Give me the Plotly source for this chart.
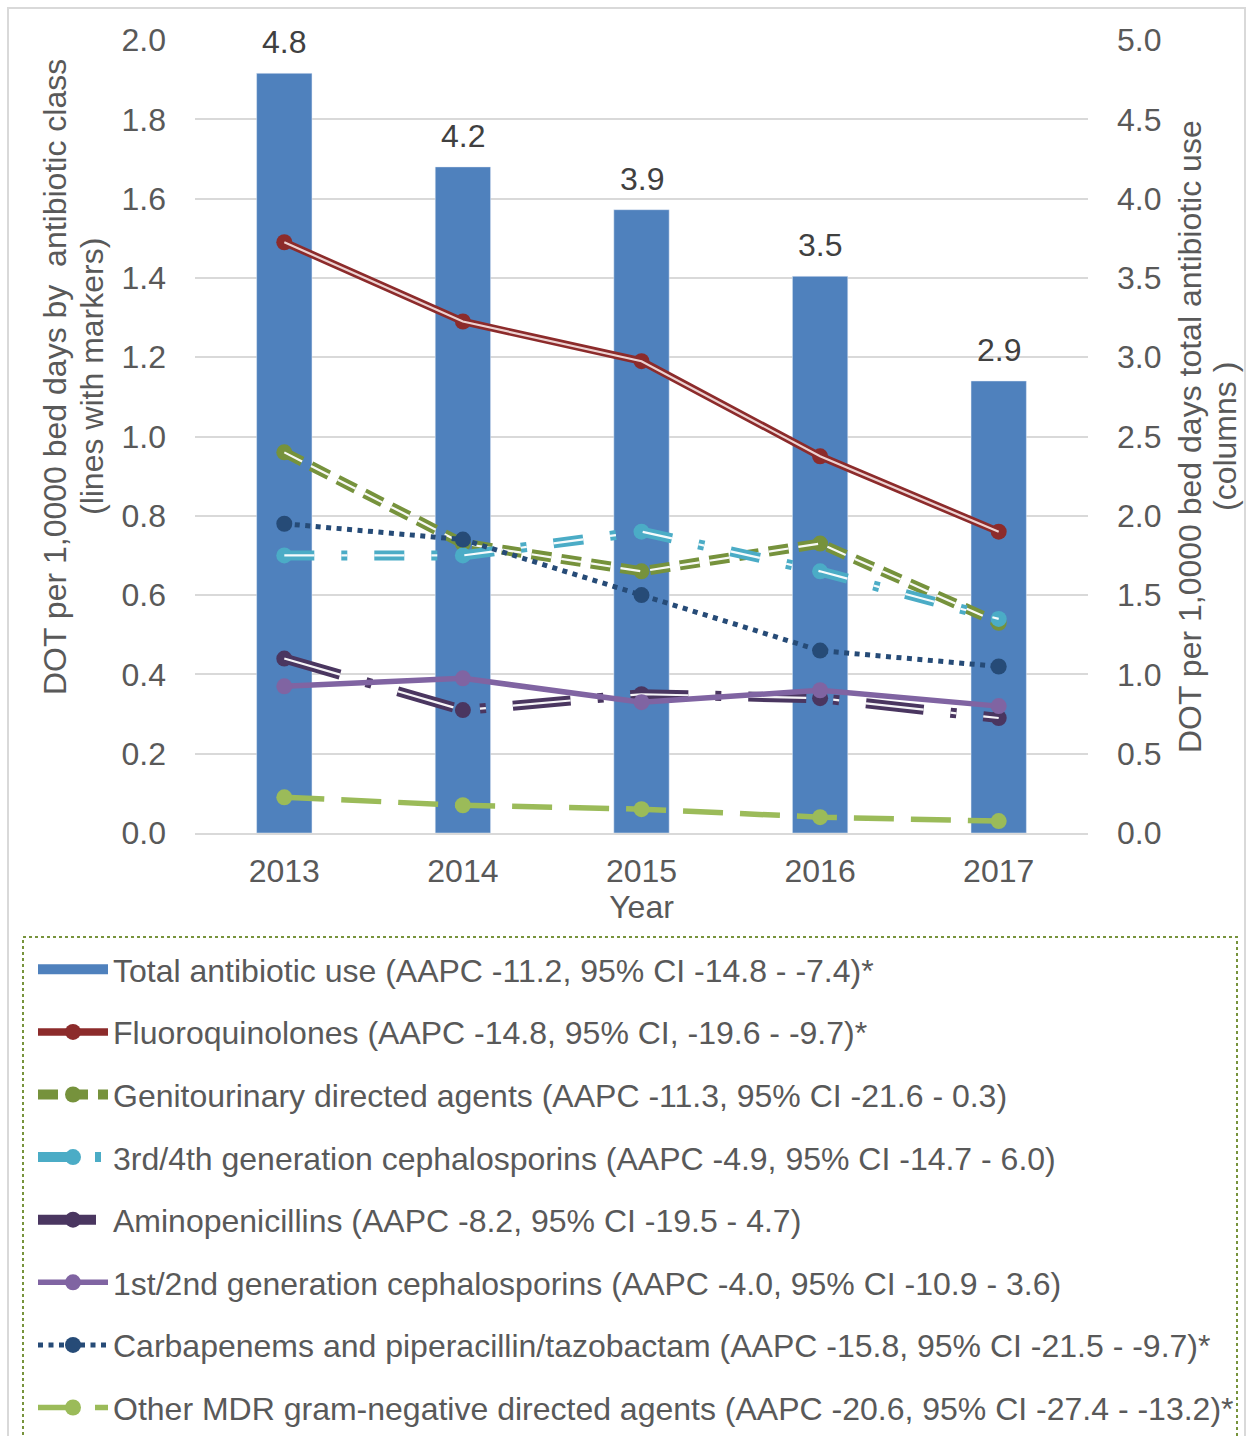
import plotly.graph_objects as go

years = ["2013", "2014", "2015", "2016", "2017"]
total_use = [4.79, 4.20, 3.93, 3.51, 2.85]
total_labels = ["4.8", "4.2", "3.9", "3.5", "2.9"]

fluoroquinolones = [1.49, 1.29, 1.19, 0.95, 0.76]
genitourinary = [0.96, 0.73, 0.66, 0.73, 0.53]
ceph_3_4 = [0.70, 0.70, 0.76, 0.66, 0.54]
aminopenicillins = [0.44, 0.31, 0.35, 0.34, 0.29]
ceph_1_2 = [0.37, 0.39, 0.33, 0.36, 0.32]
carbapenems = [0.78, 0.74, 0.60, 0.46, 0.42]
other_mdr = [0.09, 0.07, 0.06, 0.04, 0.03]

names = [
    "Total antibiotic use (AAPC -11.2, 95% CI -14.8 - -7.4)*",
    "Fluoroquinolones (AAPC -14.8, 95% CI, -19.6 - -9.7)*",
    "Genitourinary directed agents (AAPC -11.3, 95% CI -21.6 - 0.3)",
    "3rd/4th generation cephalosporins (AAPC -4.9, 95% CI -14.7 - 6.0)",
    "Aminopenicillins (AAPC -8.2, 95% CI -19.5 - 4.7)",
    "1st/2nd generation cephalosporins (AAPC -4.0, 95% CI -10.9 - 3.6)",
    "Carbapenems and piperacillin/tazobactam (AAPC -15.8, 95% CI -21.5 - -9.7)*",
    "Other MDR gram-negative directed agents (AAPC -20.6, 95% CI -27.4 - -13.2)*",
]

left_title = ["DOT per 1,0000 bed days by  antibiotic class", "(lines with markers)"]
right_title = ["DOT per 1,0000 bed days total antibiotic use", "(columns )"]

W, H = 1250, 1436
ML, MR, MT, MB = 195, 162, 40, 603
PW = W - ML - MR
PH = H - MT - MB

def px_x(x):
    return (x - ML) / PW

def px_y(y):
    return (H - MB - y) / PH

FONT = "Liberation Sans, Arial, sans-serif"
TXT = "#595959"
FS = 32
BAR_COLOR = "#4F81BD"

fig = go.Figure()

fig.add_trace(go.Bar(
    x=years, y=total_use, name=names[0], marker_color=BAR_COLOR,
    width=0.31, yaxis="y", showlegend=False,
))
# legend entry for the columns (wide rectangle symbol)
fig.add_trace(go.Scatter(
    x=[years[0]], y=[None], name=names[0], mode="lines",
    line=dict(color=BAR_COLOR, width=16), yaxis="y", legendgroup="g0",
))

series = [
    (fluoroquinolones, names[1], "#8C2B2B", "solid", 7.5, "rgba(242,220,219,0.95)"),
    (genitourinary, names[2], "#76923C", "20px,10px", 10, "rgba(255,255,255,0.95)"),
    (ceph_3_4, names[3], "#4BACC6", "30px,27px,6px,27px", 10, "rgba(255,255,255,0.95)"),
    (aminopenicillins, names[4], "#4A3660", "58px,27px,6px,27px", 10, "rgba(255,255,255,0.95)"),
    (ceph_1_2, names[5], "#8064A2", "solid", 5.5, None),
    (carbapenems, names[6], "#264B77", "5px,5.5px", 5, None),
    (other_mdr, names[7], "#9BBB59", "40px,17px", 5.5, None),
]

for i, (vals, nm, col, dash, lw, inner) in enumerate(series, start=1):
    fig.add_trace(go.Scatter(
        x=years, y=vals, name=nm, mode="lines+markers",
        line=dict(color=col, width=lw, dash=dash),
        marker=dict(color=col, size=16),
        yaxis="y2", legendgroup=f"g{i}",
    ))
    if inner:
        fig.add_trace(go.Scatter(
            x=years, y=vals, mode="lines", showlegend=False,
            line=dict(color=inner, width=2.2, dash=dash),
            yaxis="y2", legendgroup=f"g{i}", hoverinfo="skip",
        ))

# value labels above the columns (x given as category index)
annotations = [
    dict(x=idx, y=v, xref="x", yref="y", text=lab, showarrow=False,
         yanchor="bottom", yshift=11, font=dict(size=FS, color="#404040", family=FONT))
    for idx, (v, lab) in enumerate(zip(total_use, total_labels))
]
title_font = dict(size=FS, color=TXT, family=FONT)
for txt, xp in zip(left_title, [55, 92]):
    annotations.append(dict(x=px_x(xp), y=px_y(377), xref="paper", yref="paper",
                            text=txt, textangle=-90, showarrow=False,
                            xanchor="center", yanchor="middle", font=title_font))
for txt, xp in zip(right_title, [1190, 1225]):
    annotations.append(dict(x=px_x(xp), y=px_y(437), xref="paper", yref="paper",
                            text=txt, textangle=-90, showarrow=False,
                            xanchor="center", yanchor="middle", font=title_font))

fig.update_layout(
    width=W, height=H,
    margin=dict(l=ML, r=MR, t=MT, b=MB, autoexpand=False),
    paper_bgcolor="white", plot_bgcolor="white",
    font=dict(family=FONT, size=FS, color=TXT),
    xaxis=dict(
        type="category", categoryorder="array", categoryarray=years, range=[-0.5, 4.5],
        showgrid=False, showline=True, linecolor="#D9D9D9", linewidth=2,
        ticks="", tickfont=dict(size=FS, color=TXT), ticklabelstandoff=9,
        title=dict(text="Year", font=dict(size=FS, color=TXT), standoff=4),
    ),
    yaxis=dict(
        side="right", range=[0, 5], dtick=0.5, tickformat=".1f",
        showgrid=True, gridcolor="#D9D9D9", gridwidth=2, zeroline=False,
        ticks="", tickfont=dict(size=FS, color=TXT), ticklabelstandoff=28,
    ),
    yaxis2=dict(
        side="left", overlaying="y", range=[0, 2], dtick=0.2, tickformat=".1f",
        showgrid=False, zeroline=False, ticks="",
        tickfont=dict(size=FS, color=TXT), ticklabelstandoff=28,
    ),
    legend=dict(
        x=px_x(33), y=px_y(942), xanchor="left", yanchor="top",
        orientation="v", traceorder="grouped", tracegroupgap=18,
        itemwidth=70, font=dict(size=FS, color=TXT, family=FONT),
        bgcolor="rgba(0,0,0,0)",
    ),
    annotations=annotations,
    shapes=[
        dict(type="rect", xref="paper", yref="paper",
             x0=px_x(8), x1=px_x(1245), y0=px_y(1446), y1=px_y(8),
             line=dict(color="#D9D9D9", width=2)),
        dict(type="rect", xref="paper", yref="paper",
             x0=px_x(23), x1=px_x(1237), y0=px_y(1446), y1=px_y(937),
             line=dict(color="#77933C", width=2, dash="dot")),
    ],
)

fig.write_html("out.html", config={"displayModeBar": False},
               post_script="document.body.style.margin='0';")
